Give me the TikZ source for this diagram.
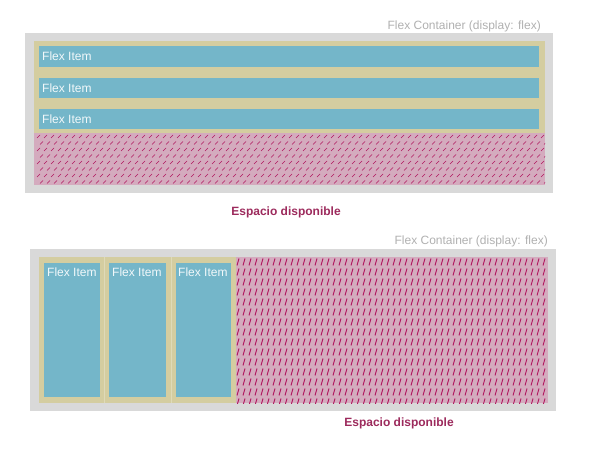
\documentclass[tikz,border=0pt]{standalone}
\usepackage{fontspec}
\setmainfont{Liberation Sans}
\usetikzlibrary{positioning}

\definecolor{contgray}{HTML}{D9D9D9}
\definecolor{itemtan}{HTML}{D4CDA0}
\definecolor{itemblue}{HTML}{74B6C9}
\definecolor{freepink}{HTML}{D4ABBE}
\definecolor{hatchred}{HTML}{B0175E}
\definecolor{labelgray}{HTML}{B0B0B0}
\definecolor{freetext}{HTML}{9C2A5C}

\tikzset{
  container/.style={fill=contgray},
  margin/.style={fill=itemtan},
  item/.style={fill=itemblue},
  free/.style={fill=freepink},
  hatch/.style={draw=hatchred, line width=0.9pt},
  itemtext/.style={text=white!90!itemblue, font=\fontsize{12}{14}\selectfont, inner sep=0pt, anchor=west},
  conttext/.style={text=labelgray, font=\fontsize{12}{14}\selectfont, inner sep=0pt, anchor=east},
  freelabel/.style={text=freetext, font=\fontsize{12}{14}\selectfont\bfseries, inner sep=0pt}
}

\begin{document}
\begin{tikzpicture}[x=1pt, y=-1pt]
  \useasboundingbox (0,0) rectangle (595,465);

  % --- top : flex-direction column ---
  \fill[container] (25,33) rectangle (553,193);            % container
  \fill[margin] (34,41) rectangle (545,133);               % item margins
  \fill[item] (39,46) rectangle (539,67);                  % item 1
  \fill[item] (39,78) rectangle (539,98);                  % item 2
  \fill[item] (39,109) rectangle (539,129);                % item 3
  \fill[free] (34,133) rectangle (545,185);                % free space
  \begin{scope}
    \clip (34,133) rectangle (545,185);
    \foreach \k in {0,...,7}
      \foreach \i in {0,...,74}
        \draw[hatch, line width=0.7pt] ({37+7*\i+3*mod(\k,2)},{136.5+6.5*\k+1.5}) -- ++(3,-3);  % dash
  \end{scope}
  \node[itemtext] (topa) at (42,56.5) {Flex Item};
  \node[itemtext] (topb) at (42,88) {Flex Item};
  \node[itemtext] (topc) at (42,119) {Flex Item};
  \node[conttext] (toplabel) at (541,26) {Flex Container (display: flex)};
  \node[freelabel] (topfree) at (286,212) {Espacio disponible};

  % --- bottom : flex-direction row ---
  \fill[container] (30,249) rectangle (556,411);           % container
  \fill[margin] (39,257) rectangle (236,403);              % item margins
  \draw[white!25!itemtan, line width=0.5pt] (104,257) -- (104,403);
  \draw[white!25!itemtan, line width=0.5pt] (171,257) -- (171,403);
  \fill[item] (44,263) rectangle (100,397);                % item 1
  \fill[item] (109,263) rectangle (166,397);               % item 2
  \fill[item] (176,263) rectangle (231,397);               % item 3
  \fill[free] (236,257) rectangle (548,403);               % free space
  \begin{scope}
    \clip (236,257) rectangle (548,403);
    \foreach \k in {0,...,14}
      \foreach \i in {0,...,52}
        \draw[hatch] ({237+6*\i},{262+10*\k+3.5}) -- ++(2,-7);  % dash
  \end{scope}
  \node[itemtext] (bota) at (47,272) {Flex Item};
  \node[itemtext] (botb) at (112,272) {Flex Item};
  \node[itemtext] (botc) at (178,272) {Flex Item};
  \node[conttext] (botlabel) at (548,241) {Flex Container (display: flex)};
  \node[freelabel] (botfree) at (399,423) {Espacio disponible};
\end{tikzpicture}
\end{document}
